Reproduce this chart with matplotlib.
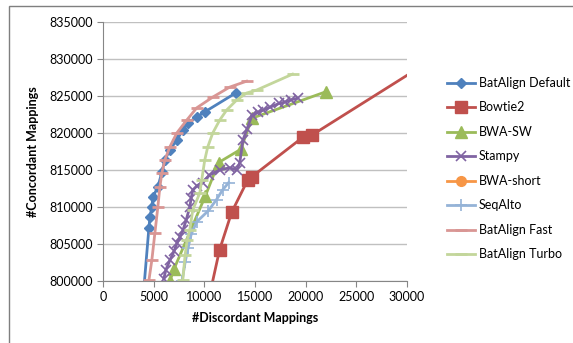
import matplotlib.pyplot as plt
from matplotlib.patches import Rectangle

plt.rcParams['font.family'] = ['Lato', 'DejaVu Sans']

# --- data (discordant, concordant) ---
default_x = [4000, 4530, 4630, 4820, 4920, 5410, 5810, 6100, 6590, 7280, 7870, 8370, 9250, 10040, 13090]
default_y = [798500, 807200, 808650, 810000, 811350, 812700, 814700, 816350, 817700, 819050, 820400, 821350, 822150, 822850, 825400]

bowtie_x = [10600, 11500, 12700, 14300, 14700, 19700, 20600, 31000]
bowtie_y = [798600, 804200, 809300, 813700, 814100, 819400, 819700, 828650]

bwasw_x = [6600, 7000, 10100, 11400, 13600, 14700, 22050]
bwasw_y = [800000, 801600, 811500, 816000, 817800, 822000, 825600]

stampy_x = [6000, 6200, 6600, 7000, 7300, 7600, 7900, 8200, 8560, 8700, 8860, 9300, 9840, 10500,
            11500, 12500, 13200, 13500, 13800, 14200, 14700, 15300, 15800, 16500, 17400, 18000, 18600, 19200]
stampy_y = [800300, 801500, 802800, 804000, 805100, 806000, 806900, 808200, 810000, 811200, 812300, 812900, 813300, 814300,
            815000, 815300, 815000, 816000, 819000, 820500, 822400, 822800, 823100, 823500, 824000, 824200, 824500, 824700]

bwashort_x = []
bwashort_y = []

seqalto_x = [7800, 8100, 8400, 8700, 9250, 10400, 11200, 11800, 12400]
seqalto_y = [800000, 802500, 804500, 806300, 808000, 809500, 811000, 812300, 813300]

fast_x = [4530, 4820, 5120, 5410, 5610, 5810, 6100, 6590, 7280, 8270, 9250, 10830, 12500, 14170]
fast_y = [800100, 802850, 806500, 810000, 812700, 814600, 816350, 818100, 820000, 821750, 823400, 824850, 826200, 827000]

turbo_x = [7870, 8100, 8300, 8560, 8860, 9550, 9740, 10040, 10330, 10830, 11520, 12200, 13190, 14170, 15160, 18700]
turbo_y = [800100, 803500, 805500, 806900, 809600, 811900, 813650, 816350, 818100, 820000, 821750, 823100, 824450, 825400, 825800, 827950]

# --- Plot ---
fig = plt.figure(figsize=(5.73, 3.43), dpi=100)
ax = fig.add_axes([0.1798, 0.1808, 0.5305, 0.7551])

ax.plot(default_x, default_y, color="#4F81BD", lw=2, marker="D", ms=5, label="BatAlign Default")
ax.plot(bowtie_x, bowtie_y, color="#C0504D", lw=2, marker="s", ms=8, label="Bowtie2")
ax.plot(bwasw_x, bwasw_y, color="#9BBB59", lw=2, marker="^", ms=8, label="BWA-SW")
ax.plot(stampy_x, stampy_y, color="#8064A2", lw=2, marker="x", ms=7, mew=1.2, label="Stampy")
ax.plot(bwashort_x, bwashort_y, color="#F79646", lw=2, marker="o", ms=7, label="BWA-short")
ax.plot(seqalto_x, seqalto_y, color="#95B3D7", lw=2, marker="+", ms=8, mew=1.2, label="SeqAlto")
ax.plot(fast_x, fast_y, color="#D99694", lw=2, marker="_", ms=8, mew=2, label="BatAlign Fast")
ax.plot(turbo_x, turbo_y, color="#C3D69B", lw=2, marker="_", ms=8, mew=2, label="BatAlign Turbo")

ax.set_xlim(0, 30000)
ax.set_ylim(800000, 835000)
ax.set_xticks(range(0, 30001, 5000))
ax.set_yticks(range(800000, 835001, 5000))
ax.grid(axis="y", color="#C0C0C0", lw=1)
ax.set_axisbelow(True)
for s in ["top", "right"]:
    ax.spines[s].set_visible(False)
for s in ["left", "bottom"]:
    ax.spines[s].set_color("#868686")
ax.tick_params(colors="#868686", labelcolor="black", labelsize=9, length=4, direction="out")

ax.set_xlabel("#Discordant Mappings", fontsize=9, fontweight="bold", labelpad=6)
ax.set_ylabel("#Concordant Mappings", fontsize=9, fontweight="bold", labelpad=7)

ax.legend(loc="upper left", bbox_to_anchor=(1.116, 0.807), frameon=False, fontsize=9,
          handlelength=2.2, handletextpad=0.3, labelspacing=1.0, borderaxespad=0)

# chart area border (left/top visible)
fig.patches.append(Rectangle((9 / 573, -0.1), 1.2, 1 - 6 / 343 + 0.1, transform=fig.transFigure,
                             fill=False, edgecolor="#7F7F7F", lw=1))

fig.savefig("out.png", dpi=100)
